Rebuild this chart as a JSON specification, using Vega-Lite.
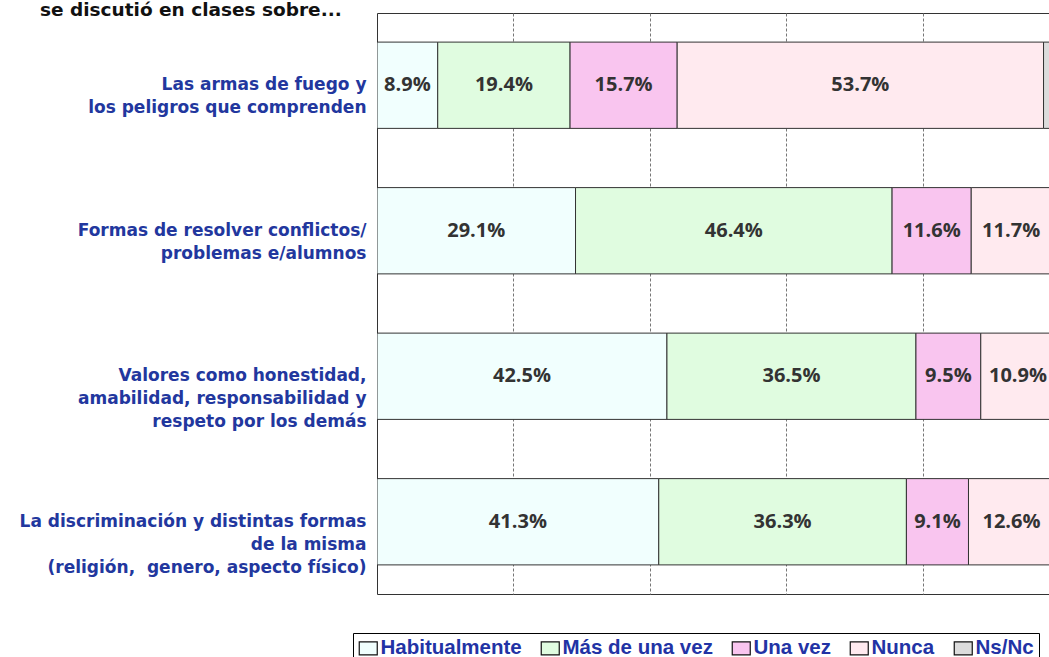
{
  "$schema": "https://vega.github.io/schema/vega-lite/v6.json",
  "width": 672,
  "height": 581,
  "autosize": {"type": "none"},
  "padding": {"left": 377, "top": 13, "right": 0, "bottom": 63},
  "background": "white",
  "title": {
    "text": "se discutió en clases sobre...",
    "anchor": "start",
    "orient": "top",
    "frame": "group",
    "dx": -337,
    "offset": 0,
    "dy": 21,
    "baseline": "alphabetic",
    "font": "DejaVu Sans",
    "fontSize": 18.5,
    "fontWeight": "bold",
    "color": "#111111"
  },
  "config": {
    "view": {"stroke": "#333333", "strokeWidth": 1}
  },
  "data": {
    "values": [
      {"tema": "Las armas de fuego y|los peligros que comprenden", "cat": "Habitualmente", "orden": 1, "v": 0.089},
      {"tema": "Las armas de fuego y|los peligros que comprenden", "cat": "Más de una vez", "orden": 2, "v": 0.194},
      {"tema": "Las armas de fuego y|los peligros que comprenden", "cat": "Una vez", "orden": 3, "v": 0.157},
      {"tema": "Las armas de fuego y|los peligros que comprenden", "cat": "Nunca", "orden": 4, "v": 0.537},
      {"tema": "Las armas de fuego y|los peligros que comprenden", "cat": "Ns/Nc", "orden": 5, "v": 0.023},
      {"tema": "Formas de resolver conflictos/|problemas e/alumnos", "cat": "Habitualmente", "orden": 1, "v": 0.291},
      {"tema": "Formas de resolver conflictos/|problemas e/alumnos", "cat": "Más de una vez", "orden": 2, "v": 0.464},
      {"tema": "Formas de resolver conflictos/|problemas e/alumnos", "cat": "Una vez", "orden": 3, "v": 0.116},
      {"tema": "Formas de resolver conflictos/|problemas e/alumnos", "cat": "Nunca", "orden": 4, "v": 0.117},
      {"tema": "Formas de resolver conflictos/|problemas e/alumnos", "cat": "Ns/Nc", "orden": 5, "v": 0.012},
      {"tema": "Valores como honestidad,|amabilidad, responsabilidad y|respeto por los demás", "cat": "Habitualmente", "orden": 1, "v": 0.425},
      {"tema": "Valores como honestidad,|amabilidad, responsabilidad y|respeto por los demás", "cat": "Más de una vez", "orden": 2, "v": 0.365},
      {"tema": "Valores como honestidad,|amabilidad, responsabilidad y|respeto por los demás", "cat": "Una vez", "orden": 3, "v": 0.095},
      {"tema": "Valores como honestidad,|amabilidad, responsabilidad y|respeto por los demás", "cat": "Nunca", "orden": 4, "v": 0.109},
      {"tema": "Valores como honestidad,|amabilidad, responsabilidad y|respeto por los demás", "cat": "Ns/Nc", "orden": 5, "v": 0.006},
      {"tema": "La discriminación y distintas formas|de la misma|(religión,\u00a0 genero, aspecto físico)", "cat": "Habitualmente", "orden": 1, "v": 0.413},
      {"tema": "La discriminación y distintas formas|de la misma|(religión,\u00a0 genero, aspecto físico)", "cat": "Más de una vez", "orden": 2, "v": 0.363},
      {"tema": "La discriminación y distintas formas|de la misma|(religión,\u00a0 genero, aspecto físico)", "cat": "Una vez", "orden": 3, "v": 0.091},
      {"tema": "La discriminación y distintas formas|de la misma|(religión,\u00a0 genero, aspecto físico)", "cat": "Nunca", "orden": 4, "v": 0.126},
      {"tema": "La discriminación y distintas formas|de la misma|(religión,\u00a0 genero, aspecto físico)", "cat": "Ns/Nc", "orden": 5, "v": 0.007}
    ]
  },
  "encoding": {
    "y": {
      "field": "tema",
      "type": "nominal",
      "sort": null,
      "scale": {"paddingInner": 0.407, "paddingOuter": 0.2},
      "axis": {
        "title": null,
        "ticks": false,
        "domain": false,
        "labelPadding": 11,
        "labelFont": "DejaVu Sans",
        "labelFontSize": 17,
        "labelFontWeight": "bold",
        "labelColor": "#22379e",
        "labelLineHeight": 23,
        "labelLimit": 0,
        "labelExpr": "split(datum.label, '|')",
        "encode": {
          "labels": {
            "update": {
              "dx": {"signal": "indexof(datum.value, 'La discrim') === 0 ? -15 : (indexof(datum.value, 'Formas') === 0 ? -5 : 0)"}
            }
          }
        }
      }
    }
  },
  "layer": [
    {
      "mark": {"type": "bar", "stroke": "#333333", "strokeWidth": 1, "clip": true},
      "encoding": {
        "x": {
          "field": "v",
          "type": "quantitative",
          "stack": "zero",
          "scale": {"domain": [0, 0.985], "nice": false},
          "axis": {
            "orient": "top",
            "title": null,
            "labels": false,
            "ticks": false,
            "domain": false,
            "grid": true,
            "values": [0.2, 0.4, 0.6, 0.8],
            "gridDash": [3, 2],
            "gridColor": "#777777",
            "gridWidth": 1
          }
        },
        "color": {
          "field": "cat",
          "type": "nominal",
          "scale": {
            "domain": ["Habitualmente", "Más de una vez", "Una vez", "Nunca", "Ns/Nc"],
            "range": ["#f1fffe", "#e0fce0", "#f9c5ef", "#ffeaef", "#dcdcdc"]
          },
          "legend": {
            "title": null,
            "orient": "none",
            "legendX": -24,
            "legendY": 620,
            "direction": "horizontal",
            "strokeColor": "#000000",
            "padding": 5,
            "symbolType": "M-1,-0.72H1V0.72H-1Z",
            "symbolSize": 324,
            "symbolStrokeColor": "#111111",
            "symbolStrokeWidth": 1.2,
            "symbolOpacity": 1,
            "labelFont": "Liberation Sans",
            "labelFontSize": 20.5,
            "labelFontWeight": "bold",
            "labelColor": "#2233a5",
            "labelOffset": 2,
            "columnPadding": 16
          }
        },
        "order": {"field": "orden", "type": "quantitative"}
      }
    },
    {
      "transform": [
        {"stack": "v", "groupby": ["tema"], "sort": [{"field": "orden"}], "as": ["x0", "x1"]},
        {"filter": "datum.orden < 5"},
        {"calculate": "(datum.x0 + datum.x1) / 2", "as": "mid"}
      ],
      "mark": {"type": "text", "font": "Open Sans", "fontSize": 20, "fontWeight": "bold", "color": "#333333"},
      "encoding": {
        "x": {"field": "mid", "type": "quantitative", "scale": {"domain": [0, 0.985], "nice": false}},
        "text": {"field": "v", "type": "quantitative", "format": ".1%"}
      }
    }
  ]
}
